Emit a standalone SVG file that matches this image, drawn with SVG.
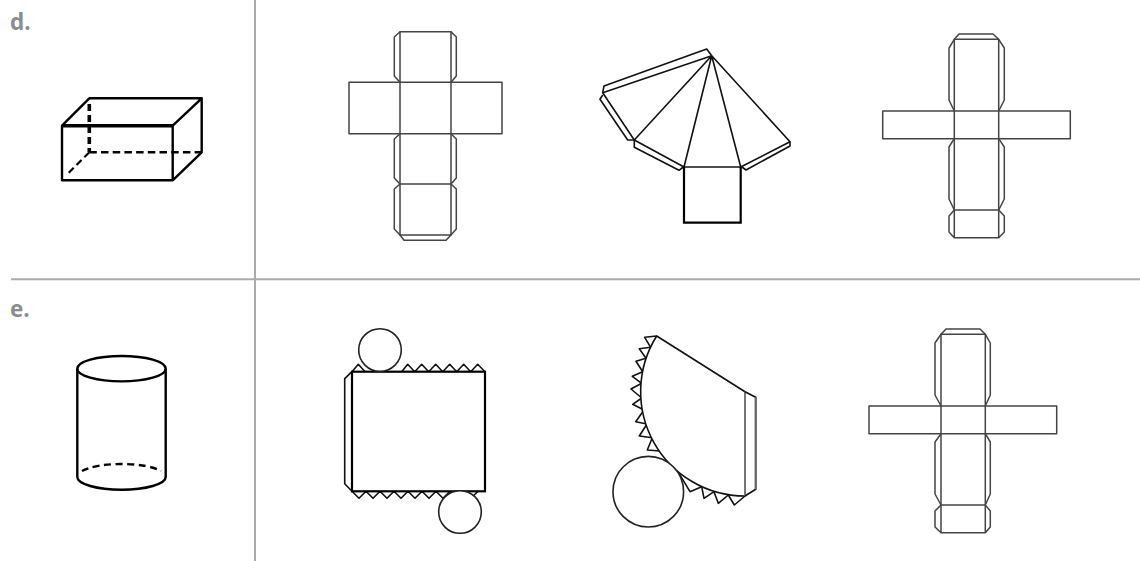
<svg xmlns="http://www.w3.org/2000/svg" width="1140" height="561" viewBox="0 0 1140 561">
<style>
text{font-family:"Open Sans","Liberation Sans",sans-serif;font-weight:700;font-size:22.5px;fill:#8c8c8c}
.rule{stroke:#ababab;stroke-width:2;fill:none}
.n{fill:none;stroke:#444;stroke-width:1.5;stroke-linejoin:round}
.k{fill:none;stroke:#111;stroke-width:1.6;stroke-linejoin:round}
.s{fill:none;stroke:#000;stroke-width:2.4;stroke-linejoin:round}
.w{fill:#fff;stroke:#222;stroke-width:1.6}
</style>
<rect width="1140" height="561" fill="#fff"/>
<g id="rules">
<line class="rule" x1="255" y1="0" x2="255" y2="561"/>
<line class="rule" x1="11" y1="279.3" x2="1140" y2="279.3"/>
</g>
<text id="label-d" x="10" y="29.5">d.</text>
<text id="label-e" x="10" y="317">e.</text>
<g id="solid-box">
<path class="s" d="M62 125.7H172.7V180.3H62ZM62 125.7L89.3 98.3H201.7V152.3L172.7 180.3M172.7 125.7L201.7 98.3"/>
<line x1="62" y1="125.7" x2="172.7" y2="125.7" stroke="#000" stroke-width="3.4"/>
<line x1="89.3" y1="104" x2="89.3" y2="152" stroke="#000" stroke-width="3.6" stroke-dasharray="7 4"/>
<line x1="89.3" y1="152.3" x2="201.7" y2="152.3" stroke="#000" stroke-width="2.4" stroke-dasharray="7.5 4.2"/>
<line x1="89.3" y1="152.3" x2="68" y2="173.5" stroke="#000" stroke-width="2.2" stroke-dasharray="7 4"/>
</g>
<g id="solid-cylinder">
<ellipse class="s" cx="121.5" cy="368.7" rx="44.2" ry="12.7"/>
<path class="s" d="M77.3 368.7V477A44.2 12.7 0 0 0 165.7 477V368.7"/>
<path class="s" d="M82 471A44.2 12.7 0 0 1 161 471" stroke-dasharray="7 4.5"/>
</g>
<g id="net-d1">
<path class="n" d="M400 31.7H451V235H400ZM349 82.3H502V133.7H349ZM400 184H451"/>
<path class="n" d="M400 31.7L394.3 37V76L400 82.3M451 31.7L456.3 37V76L451 82.3M400 133.7L394.3 139V178L400 184M451 133.7L456.3 139V178L451 184M400 184L394.3 189V229L400 235L404 240.3H446L451 235L456.3 229V189L451 184"/>
</g>
<g id="net-d2">
<path class="k" d="M711.7 55.7L684 167M711.7 55.7L740.7 167M711.7 55.7L634.3 140M711.7 55.7L602.7 92.7L634.3 140M711.7 55.7L790 141.7L740.7 167H684L634.3 140"/>
<path class="k" d="M742 167L746 170L790 146V141.7M683.3 167L679 170.3L634.3 147.3V140M634.3 140H627.7L600 99.3L602.7 95M602.7 92.7L604 86L706.7 49L711.7 55.7"/>
<path d="M684 167V222.7H740.7V167" fill="none" stroke="#000" stroke-width="2.2"/>
</g>
<g id="net-d3">
<path class="n" d="M954.3 39.3H998.7V237.7H954.3ZM882.7 111H1070.3V138.7H882.7ZM954.3 210H998.7"/>
<path class="n" d="M954.3 39.3L959 34H993L998.7 39.3M954.3 39.3L949 48V100L954.3 111M998.7 39.3L1004.3 48V100L998.7 111M954.3 138.7L949 147V199L954.3 210M998.7 138.7L1004.3 147V199L998.7 210M954.3 210L949 216V232L954.3 237.7M998.7 210L1004.3 216V232L998.7 237.7"/>
</g>
<g id="net-e1">
<path class="k" d="M352 371.7L344.7 378.7V483.7L352 491.3"/>
<path class="k" d="M352 371.7L358.3 364.3L365 371.7M401.7 371.7L407.7 364.3L414.7 371.7L421.7 364.3L428.7 371.7L435.7 364.3L442.7 371.7L449.7 364.3L456.7 371.7L463.7 364.3L470.7 371.7L477.7 364.3L485 371.7"/>
<path class="k" d="M352 491.3L359 498.3L366 491.3L373 498.3L380 491.3L387 498.3L394 491.3L401 498.3L408 491.3L415 498.3L422 491.3L429 498.3L436 491.3L443 498.3L450 491.3L457 498.3L464 491.3L471 498.3L478 491.3L485 491.3"/>
<rect x="352" y="371.7" width="133" height="119.6" fill="#fff" stroke="#000" stroke-width="2.2"/>
<circle class="w" cx="380" cy="350" r="21.3"/>
<circle class="w" cx="460" cy="512" r="21.3"/>
</g>
<g id="net-e2">
<path class="k" d="M656.7 336L644.7 337.3L650.7 347.3L639.3 348.7L646 358.3L636 361.3L642.7 371.7L632.3 376.3L641.7 383.3L631 389L641.7 398L632.7 404.3L644 410L635.7 421.7L647 424L639.3 436L652.3 437.7L647.3 450L660 451"/>
<path class="k" d="M679 473.3L690 491.7L701.7 486.7L704 498.3L714 491.7L718.3 503.3L728.3 495L734.3 505L745 496"/>
<path d="M656.7 336L745 391.7V496A104.4 104.4 0 0 1 656.7 336Z" fill="#fff" stroke="#111" stroke-width="1.6" stroke-linejoin="round"/>
<line x1="745" y1="391.7" x2="745" y2="496" stroke="#777" stroke-width="2"/>
<path class="k" d="M745 391.7L755.7 397.3V489.3L745 496"/>
<line x1="755.7" y1="397.3" x2="755.7" y2="489.3" stroke="#666" stroke-width="2"/>
<circle class="w" cx="648.3" cy="491.7" r="35.3"/>
</g>
<g id="net-e3">
<path class="n" d="M941 334.3H985.3V532.7H941ZM869 406H1056.7V433.7H869ZM941 505H985.3"/>
<path class="n" d="M941 334.3L946 329H980L985.3 334.3M941 334.3L935 343V395L941 406M985.3 334.3L990.3 343V395L985.3 406M941 433.7L935 442V494L941 505M985.3 433.7L990.3 442V494L985.3 505M941 505L935 511V527L941 532.7M985.3 505L990.3 511V527L985.3 532.7"/>
</g>
</svg>
